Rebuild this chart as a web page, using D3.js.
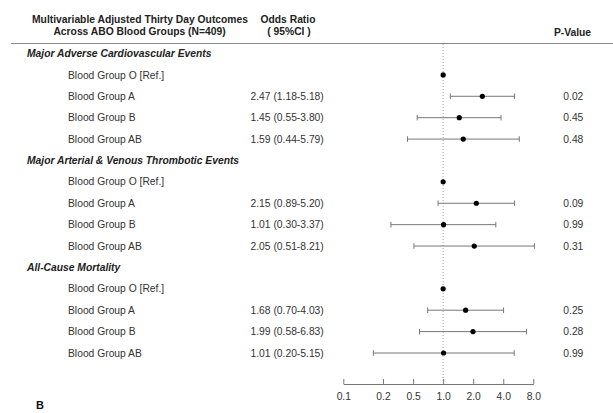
<!DOCTYPE html>
<html>
<head>
<meta charset="utf-8">
<script src="https://cdn.jsdelivr.net/npm/d3@7"></script>
<style>
  body { margin: 0; background: #fff; }
  svg { display: block; font-family: "Liberation Sans", Arial, sans-serif; }
</style>
</head>
<body>
<div id="chart"></div>
<script>
// outcome groups and rows
const outcomes = [
  "Major Adverse Cardiovascular Events",
  "Major Arterial & Venous Thrombotic Events",
  "All-Cause Mortality",
];
const bloodGroups = ["Blood Group O [Ref.]", "Blood Group A", "Blood Group B", "Blood Group AB"];

// odds ratios per outcome, rows O (ref), A, B, AB
const oddsRatio = [
  [1, 2.47, 1.45, 1.59],
  [1, 2.15, 1.01, 2.05],
  [1, 1.68, 1.99, 1.01],
];
const ciLow = [
  [null, 1.18, 0.55, 0.44],
  [null, 0.89, 0.30, 0.51],
  [null, 0.70, 0.58, 0.20],
];
const ciHigh = [
  [null, 5.18, 3.80, 5.79],
  [null, 5.20, 3.37, 8.21],
  [null, 4.03, 6.83, 5.15],
];
const pValues = [
  [null, "0.02", "0.45", "0.48"],
  [null, "0.09", "0.99", "0.31"],
  [null, "0.25", "0.28", "0.99"],
];

const tickValues = [0.1, 0.25, 0.5, 1, 2, 4, 8];
const tickLabels = ["0.1", "0.2", "0.5", "1.0", "2.0", "4.0", "8.0"];

const width = 613;
const height = 413;
const fontSize = 10.3;

// flatten to one row per line of the table
const rows = [];
outcomes.forEach((name, i) => {
  rows.push({ type: "header", label: name });
  bloodGroups.forEach((bg, j) => {
    rows.push({
      type: "item",
      label: bg,
      or: oddsRatio[i][j],
      lo: ciLow[i][j],
      hi: ciHigh[i][j],
      p: pValues[i][j],
    });
  });
});

const fmt = d3.format(".2f");

const x = d3.scaleLog().domain([0.1, 8]).range([343.3, 533.3]);
const y = d3.scaleLinear().domain([0, rows.length - 1]).range([53.5, 353]);

const svg = d3
  .select("#chart")
  .append("svg")
  .attr("width", width)
  .attr("height", height)
  .attr("viewBox", [0, 0, width, height]);

// column headings
const head = svg.append("g").attr("font-weight", "bold").attr("fill", "#222").attr("font-size", fontSize);
head.append("text").attr("x", 140).attr("y", 22.5).attr("text-anchor", "middle")
  .text("Multivariable Adjusted Thirty Day Outcomes");
head.append("text").attr("x", 139.5).attr("y", 35.3).attr("text-anchor", "middle")
  .text("Across ABO Blood Groups (N=409)");
head.append("text").attr("x", 288).attr("y", 22.5).attr("text-anchor", "middle").text("Odds Ratio");
head.append("text").attr("x", 289).attr("y", 35.3).attr("text-anchor", "middle").text("( 95%CI )");
head.append("text").attr("x", 572.5).attr("y", 35.8).attr("text-anchor", "middle").text("P-Value");

svg.append("line")
  .attr("x1", 11).attr("x2", width)
  .attr("y1", 43.5).attr("y2", 43.5)
  .attr("stroke", "#8a8a8a").attr("stroke-width", 1);

// reference line at OR = 1
svg.append("line")
  .attr("x1", x(1)).attr("x2", x(1))
  .attr("y1", 44).attr("y2", 381)
  .attr("stroke", "#aaa")
  .attr("stroke-dasharray", "1,2");

// row texts
const row = svg.append("g").attr("font-size", fontSize)
  .selectAll("g")
  .data(rows)
  .join("g")
  .attr("transform", (d, i) => `translate(0,${y(i)})`);

row.filter((d) => d.type === "header")
  .append("text")
  .attr("x", 27)
  .attr("dy", "0.35em")
  .attr("font-weight", "bold")
  .attr("font-style", "italic")
  .attr("fill", "#222")
  .text((d) => d.label);

const items = row.filter((d) => d.type === "item");

items.append("text")
  .attr("x", 68)
  .attr("dy", "0.35em")
  .attr("fill", "#333")
  .text((d) => d.label);

items.filter((d) => d.lo != null)
  .append("text")
  .attr("x", 250.5)
  .attr("dy", "0.35em")
  .attr("fill", "#333")
  .text((d) => `${fmt(d.or)} (${fmt(d.lo)}-${fmt(d.hi)})`);

items.filter((d) => d.p != null)
  .append("text")
  .attr("x", 563.3)
  .attr("dy", "0.35em")
  .attr("fill", "#333")
  .text((d) => d.p);

// confidence intervals
const ci = items.filter((d) => d.lo != null).append("g").attr("stroke", "#777").attr("stroke-width", 1);
ci.append("line")
  .attr("x1", (d) => x(d.lo)).attr("x2", (d) => x(d.hi));
ci.append("line")
  .attr("x1", (d) => x(d.lo)).attr("x2", (d) => x(d.lo))
  .attr("y1", -2.8).attr("y2", 2.8);
ci.append("line")
  .attr("x1", (d) => x(d.hi)).attr("x2", (d) => x(d.hi))
  .attr("y1", -2.8).attr("y2", 2.8);

items.append("circle")
  .attr("cx", (d) => x(d.or))
  .attr("r", 2.6)
  .attr("fill", "#000");

// x axis
const axis = svg.append("g")
  .attr("transform", "translate(0,384)")
  .call(
    d3.axisBottom(x)
      .tickValues(tickValues)
      .tickFormat((d, i) => tickLabels[i])
      .tickSize(-5)
      .tickSizeOuter(0)
      .tickPadding(9)
  );
axis.selectAll("path, line").attr("stroke", "#777");
axis.selectAll("text")
  .attr("font-size", fontSize)
  .attr("fill", "#333")
  .attr("font-family", "Liberation Sans, Arial, sans-serif");

svg.append("text")
  .attr("x", 36)
  .attr("y", 409)
  .attr("font-weight", "bold")
  .attr("font-size", 11)
  .attr("fill", "#111")
  .text("B");
</script>
</body>
</html>
